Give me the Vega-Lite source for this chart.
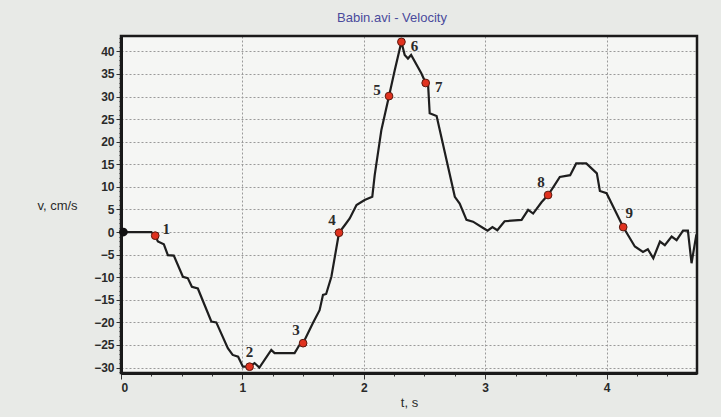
{
  "$schema": "https://vega.github.io/schema/vega-lite/v6.json",
  "width": 576,
  "height": 337,
  "autosize": {"type": "none"},
  "padding": {"left": 121, "top": 36, "right": 24, "bottom": 44},
  "background": "#e8eae7",
  "view": {"fill": "#f5f6f4", "stroke": null},
  "title": {"text": "Babin.avi - Velocity", "font": "Liberation Sans", "fontSize": 13, "fontWeight": "normal", "color": "#4a4a9c", "anchor": "middle", "dx": -17, "offset": 10},
  "config": {
    "axis": {"labelFont": "Liberation Sans", "labelFontSize": 12, "labelFontWeight": "bold", "labelColor": "#2a2a2a", "titleFont": "Liberation Sans", "titleFontSize": 13, "titleFontWeight": "normal", "titleColor": "#2a2a2a", "domainColor": "#1a1a1a", "domainWidth": 3, "tickColor": "#333", "gridColor": "#9a9a9a", "gridDash": [2, 2], "gridWidth": 1}
  },
  "datasets": {
    "series": [
      {"t": 0.02, "v": 0}, {"t": 0.25, "v": 0}, {"t": 0.282, "v": -0.8}, {"t": 0.304, "v": -2.1}, {"t": 0.353, "v": -2.7},
      {"t": 0.386, "v": -5.1}, {"t": 0.435, "v": -5.2}, {"t": 0.51, "v": -9.9}, {"t": 0.55, "v": -10.2}, {"t": 0.584, "v": -12.1},
      {"t": 0.633, "v": -12.5}, {"t": 0.744, "v": -19.8}, {"t": 0.785, "v": -20}, {"t": 0.88, "v": -25.7}, {"t": 0.92, "v": -27.2},
      {"t": 0.965, "v": -27.6}, {"t": 1.004, "v": -29.8}, {"t": 1.059, "v": -29.8}, {"t": 1.1, "v": -29.0}, {"t": 1.14, "v": -30.0},
      {"t": 1.238, "v": -26.1}, {"t": 1.265, "v": -26.8}, {"t": 1.43, "v": -26.8}, {"t": 1.47, "v": -25.0}, {"t": 1.5, "v": -24.6},
      {"t": 1.58, "v": -20.2}, {"t": 1.636, "v": -17.3}, {"t": 1.664, "v": -13.9}, {"t": 1.69, "v": -13.7}, {"t": 1.733, "v": -9.9},
      {"t": 1.796, "v": -0.15}, {"t": 1.843, "v": 1.5}, {"t": 1.884, "v": 3.0}, {"t": 1.94, "v": 6.0}, {"t": 2.007, "v": 7.1},
      {"t": 2.07, "v": 7.8}, {"t": 2.09, "v": 12.6}, {"t": 2.145, "v": 22.6}, {"t": 2.208, "v": 30.1}, {"t": 2.255, "v": 35.8},
      {"t": 2.31, "v": 42.1}, {"t": 2.337, "v": 39.2}, {"t": 2.364, "v": 38.4}, {"t": 2.39, "v": 39.2}, {"t": 2.475, "v": 35.1},
      {"t": 2.51, "v": 33.0}, {"t": 2.53, "v": 32.5}, {"t": 2.543, "v": 26.3}, {"t": 2.6, "v": 25.7}, {"t": 2.75, "v": 7.8},
      {"t": 2.79, "v": 6.3}, {"t": 2.846, "v": 2.7}, {"t": 2.9, "v": 2.3}, {"t": 2.99, "v": 0.8}, {"t": 3.02, "v": 0.3},
      {"t": 3.06, "v": 1.1}, {"t": 3.1, "v": 0.4}, {"t": 3.16, "v": 2.4}, {"t": 3.3, "v": 2.7}, {"t": 3.354, "v": 4.9},
      {"t": 3.395, "v": 4.1}, {"t": 3.464, "v": 6.6}, {"t": 3.518, "v": 8.2}, {"t": 3.56, "v": 9.9}, {"t": 3.615, "v": 12.2},
      {"t": 3.7, "v": 12.6}, {"t": 3.75, "v": 15.2}, {"t": 3.833, "v": 15.2}, {"t": 3.92, "v": 13.0}, {"t": 3.945, "v": 9.1},
      {"t": 4.0, "v": 8.6}, {"t": 4.137, "v": 1.1}, {"t": 4.233, "v": -3.2}, {"t": 4.3, "v": -4.4}, {"t": 4.34, "v": -3.8},
      {"t": 4.385, "v": -5.8}, {"t": 4.44, "v": -2.1}, {"t": 4.48, "v": -2.9}, {"t": 4.536, "v": -1.0}, {"t": 4.577, "v": -1.8},
      {"t": 4.63, "v": 0.3}, {"t": 4.67, "v": 0.3}, {"t": 4.7, "v": -6.9}, {"t": 4.74, "v": -0.5}
    ],
    "marked": [
      {"label": "1", "t": 0.282, "v": -0.8},
      {"label": "2", "t": 1.059, "v": -29.8},
      {"label": "3", "t": 1.5, "v": -24.6},
      {"label": "4", "t": 1.796, "v": -0.15},
      {"label": "5", "t": 2.208, "v": 30.1},
      {"label": "6", "t": 2.31, "v": 42.1},
      {"label": "7", "t": 2.51, "v": 33.0},
      {"label": "8", "t": 3.518, "v": 8.2},
      {"label": "9", "t": 4.137, "v": 1.1}
    ],
    "origin": [{"t": 0.02, "v": 0}]
  },
  "encoding": {
    "x": {"field": "t", "type": "quantitative", "title": "t, s",
      "scale": {"domain": [0, 4.745], "nice": false, "zero": false},
      "axis": {
        "values": [0, 0.25, 0.5, 0.75, 1, 1.25, 1.5, 1.75, 2, 2.25, 2.5, 2.75, 3, 3.25, 3.5, 3.75, 4, 4.25, 4.5],
        "labelExpr": "datum.value % 1 === 0 ? format(datum.value, 'd') : ''",
        "grid": true,
        "gridOpacity": {"condition": {"test": "datum.value % 1 === 0", "value": 1}, "value": 0},
        "tickSize": {"condition": {"test": "datum.value % 1 === 0", "value": 6}, "value": 3},
        "labelPadding": 3,
        "titlePadding": 3
      }
    },
    "y": {"field": "v", "type": "quantitative", "title": "v, cm/s",
      "scale": {"domain": [-31.2, 43.4], "nice": false, "zero": false},
      "axis": {
        "values": [-31,-30,-29,-28,-27,-26,-25,-24,-23,-22,-21,-20,-19,-18,-17,-16,-15,-14,-13,-12,-11,-10,-9,-8,-7,-6,-5,-4,-3,-2,-1,0,1,2,3,4,5,6,7,8,9,10,11,12,13,14,15,16,17,18,19,20,21,22,23,24,25,26,27,28,29,30,31,32,33,34,35,36,37,38,39,40,41,42,43],
        "labelExpr": "datum.value % 5 === 0 ? datum.label : ''",
        "grid": true,
        "gridOpacity": {"condition": {"test": "datum.value % 5 === 0", "value": 1}, "value": 0},
        "tickSize": {"condition": {"test": "datum.value % 5 === 0", "value": 5}, "value": 2},
        "labelPadding": 2,
        "titleAngle": 0,
        "titleAlign": "center",
        "titleBaseline": "middle",
        "titleX": -64,
        "titleY": 169
      }
    }
  },
  "layer": [
    {"data": {"name": "origin"}, "mark": {"type": "rect", "filled": false, "stroke": "#1a1a1a", "strokeWidth": 2.5, "fill": null},
      "encoding": {"x": {"datum": 0}, "x2": {"datum": 4.745}, "y": {"datum": 43.4}, "y2": {"datum": -31.2}}},
    {"data": {"name": "series"}, "mark": {"type": "line", "color": "#1e1e1e", "strokeWidth": 2.2, "interpolate": "linear"}},
    {"data": {"name": "origin"}, "mark": {"type": "point", "filled": true, "shape": "circle", "size": 75, "color": "#111", "opacity": 1}},
    {"data": {"name": "marked"}, "mark": {"type": "point", "filled": true, "shape": "circle", "size": 60, "fill": "#e0321f", "stroke": "#5a1a10", "strokeWidth": 1, "opacity": 1}},
    {"data": {"name": "marked"}, "transform": [{"filter": "indexof(['3','4','8'], datum.label) >= 0"}],
      "mark": {"type": "text", "font": "Liberation Serif", "fontSize": 15, "fontWeight": "bold", "color": "#2a2a2a", "dx": -7, "dy": -13, "baseline": "middle", "align": "center"},
      "encoding": {"text": {"field": "label"}}},
    {"data": {"name": "marked"}, "transform": [{"filter": "datum.label === '2'"}],
      "mark": {"type": "text", "font": "Liberation Serif", "fontSize": 15, "fontWeight": "bold", "color": "#2a2a2a", "dx": 0, "dy": -15, "baseline": "middle", "align": "center"},
      "encoding": {"text": {"field": "label"}}},
    {"data": {"name": "marked"}, "transform": [{"filter": "datum.label === '9'"}],
      "mark": {"type": "text", "font": "Liberation Serif", "fontSize": 15, "fontWeight": "bold", "color": "#2a2a2a", "dx": 6, "dy": -14, "baseline": "middle", "align": "center"},
      "encoding": {"text": {"field": "label"}}},
    {"data": {"name": "marked"}, "transform": [{"filter": "datum.label === '1'"}],
      "mark": {"type": "text", "font": "Liberation Serif", "fontSize": 15, "fontWeight": "bold", "color": "#2a2a2a", "dx": 11, "dy": -7, "baseline": "middle", "align": "center"},
      "encoding": {"text": {"field": "label"}}},
    {"data": {"name": "marked"}, "transform": [{"filter": "datum.label === '6' || datum.label === '7'"}],
      "mark": {"type": "text", "font": "Liberation Serif", "fontSize": 15, "fontWeight": "bold", "color": "#2a2a2a", "dx": 13, "dy": 4, "baseline": "middle", "align": "center"},
      "encoding": {"text": {"field": "label"}}},
    {"data": {"name": "marked"}, "transform": [{"filter": "datum.label === '5'"}],
      "mark": {"type": "text", "font": "Liberation Serif", "fontSize": 15, "fontWeight": "bold", "color": "#2a2a2a", "dx": -12, "dy": -6, "baseline": "middle", "align": "center"},
      "encoding": {"text": {"field": "label"}}}
  ]
}
